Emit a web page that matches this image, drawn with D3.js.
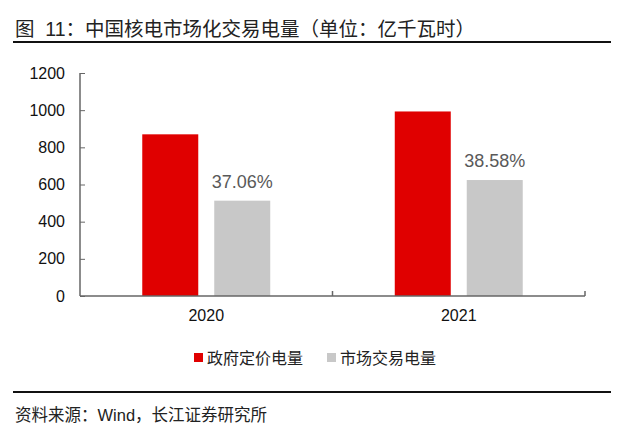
<!DOCTYPE html>
<html>
<head>
<meta charset="utf-8">
<script src="https://cdn.jsdelivr.net/npm/d3@7"></script>
<style>
body { margin: 0; background: #fff; }
svg { font-family: "Liberation Sans", Arial, "Noto Sans CJK SC", sans-serif; }
</style>
</head>
<body>
<svg id="chart" width="641" height="435"></svg>
<script>
// data
var years = ["2020", "2021"];
var seriesNames = ["政府定价电量", "市场交易电量"];
var govValues = [870, 993];
var marketValues = [513, 624];
var shareLabels = ["37.06%", "38.58%"];
var yTicks = [0, 200, 400, 600, 800, 1000, 1200];
var colors = ["#e00000", "#c8c8c8"];

var svg = d3.select("#chart");

// title and rules
svg.append("text")
  .attr("x", 15).attr("y", 36)
  .attr("font-size", "19.5px").attr("fill", "#222")
  .style("white-space", "pre")
  .text("图  11：中国核电市场化交易电量（单位：亿千瓦时）");
svg.append("line").attr("x1", 13).attr("x2", 611).attr("y1", 42).attr("y2", 42)
  .attr("stroke", "#111").attr("stroke-width", 2);
svg.append("line").attr("x1", 13).attr("x2", 611).attr("y1", 392).attr("y2", 392)
  .attr("stroke", "#111").attr("stroke-width", 2);
svg.append("text")
  .attr("x", 15).attr("y", 421)
  .attr("font-size", "16.5px").attr("fill", "#222")
  .text("资料来源：Wind，长江证券研究所");

var margin = {left: 80, top: 73},
  width = 505,
  height = 223;

var g = svg.append("g")
  .attr("transform", "translate(" + margin.left + "," + margin.top + ")");

var x0 = d3.scaleBand().domain(years).range([0, width]);
var x1 = d3.scaleBand().domain(seriesNames)
  .range([0, x0.bandwidth()])
  .paddingInner(0.222).paddingOuter(0.865);
var y = d3.scaleLinear().domain([0, 1200]).range([height, 0]);

// bars
var rows = years.map(function(d, i) {
  return {year: d, vals: [govValues[i], marketValues[i]], label: shareLabels[i]};
});

var grp = g.selectAll(".yr").data(rows).enter().append("g")
  .attr("transform", function(d) { return "translate(" + x0(d.year) + ",0)"; });

grp.selectAll("rect")
  .data(function(d) { return d.vals.map(function(v, j) { return {name: seriesNames[j], v: v, j: j}; }); })
  .enter().append("rect")
  .attr("x", function(d) { return x1(d.name); })
  .attr("y", function(d) { return y(d.v); })
  .attr("width", x1.bandwidth())
  .attr("height", function(d) { return height - y(d.v); })
  .attr("fill", function(d) { return colors[d.j]; });

grp.append("text")
  .attr("x", function() { return x1(seriesNames[1]) + x1.bandwidth() / 2; })
  .attr("y", function(d) { return y(d.vals[1]) - 13; })
  .attr("text-anchor", "middle")
  .attr("font-size", "18px").attr("fill", "#595959")
  .text(function(d) { return d.label; });

// y axis
var yAxis = g.append("g")
  .call(d3.axisLeft(y).tickValues(yTicks).tickSize(-5).tickPadding(15).tickFormat(d3.format("d")));
yAxis.select(".domain").attr("stroke", "#666").attr("stroke-width", 1.5).attr("d", "M0,0V" + height);
yAxis.selectAll(".tick line").attr("stroke", "#666");
yAxis.selectAll(".tick text").attr("font-size", "16px").attr("fill", "#111")
  .attr("font-family", "Liberation Sans, Arial, sans-serif");

// x axis
var xAxis = g.append("g")
  .attr("transform", "translate(0," + height + ")")
  .call(d3.axisBottom(x0).tickSize(0).tickPadding(14));
xAxis.select(".domain").attr("stroke", "#666").attr("stroke-width", 1.5).attr("d", "M0,0H" + width);
xAxis.selectAll(".tick text").attr("font-size", "16px").attr("fill", "#111")
  .attr("font-family", "Liberation Sans, Arial, sans-serif");
// boundary ticks between categories
xAxis.selectAll(".sep").data(years).enter().append("line")
  .attr("x1", function(d) { return x0(d) + x0.bandwidth(); })
  .attr("x2", function(d) { return x0(d) + x0.bandwidth(); })
  .attr("y1", 0).attr("y2", -5)
  .attr("stroke", "#666").attr("stroke-width", 1.5);

// legend
var legend = svg.append("g").attr("transform", "translate(194,350)");
var lx = [0, 133];
seriesNames.forEach(function(n, i) {
  legend.append("rect").attr("x", lx[i]).attr("y", 3).attr("width", 9).attr("height", 9)
    .attr("fill", colors[i]);
  legend.append("text").attr("x", lx[i] + 13).attr("y", 14)
    .attr("font-size", "16px").attr("fill", "#222").text(n);
});
</script>
</body>
</html>
